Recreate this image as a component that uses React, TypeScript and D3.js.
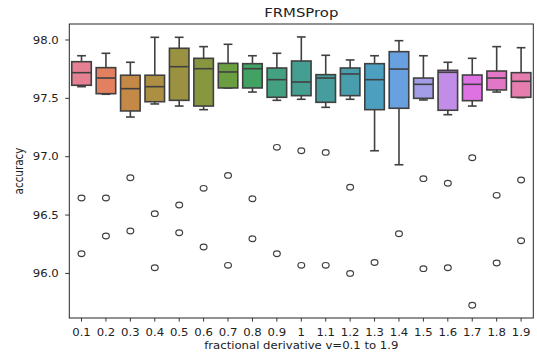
import React from "react";
import * as d3 from "d3";

// ---- data ----
const categories = ["0.1","0.2","0.3","0.4","0.5","0.6","0.7","0.8","0.9","1","1.1","1.2","1.3","1.4","1.5","1.6","1.7","1.8","1.9"];
const whiskerLow = [97.600,97.535,97.340,97.452,97.434,97.403,97.589,97.554,97.483,97.492,97.423,97.492,97.051,96.931,97.486,97.360,97.434,97.554,97.506];
const q1 =        [97.612,97.540,97.392,97.471,97.483,97.434,97.589,97.589,97.509,97.523,97.466,97.523,97.403,97.415,97.500,97.398,97.480,97.572,97.509];
const medians =   [97.720,97.674,97.583,97.600,97.771,97.754,97.726,97.754,97.660,97.640,97.674,97.709,97.660,97.751,97.620,97.723,97.620,97.674,97.646];
const q3 =        [97.814,97.763,97.698,97.698,97.929,97.843,97.800,97.797,97.760,97.820,97.703,97.760,97.797,97.900,97.674,97.740,97.700,97.734,97.720];
const whiskerHigh=[97.865,97.886,97.809,98.023,98.023,97.943,97.963,97.865,97.886,98.026,97.869,97.829,97.865,97.994,97.865,97.809,97.843,97.943,97.934];
const outliers = [
  [96.646,96.169],[96.646,96.320],[96.820,96.363],[96.512,96.049],[96.586,96.349],
  [96.729,96.226],[96.840,96.069],[96.640,96.297],[97.080,96.169],[97.051,96.069],
  [97.037,96.069],[96.738,96.000],[96.094],[96.340],[96.812,96.041],
  [96.772,96.049],[96.991,95.727],[96.669,96.089],[96.800,96.280],
];
const yTicks = [96.0, 96.5, 97.0, 97.5, 98.0];
const title = "FRMSProp";
const xLabel = "fractional derivative v=0.1 to 1.9";
const yLabel = "accuracy";

// ---- HUSL palette (seaborn husl_palette) ----
const M = [[3.2406,-1.5372,-0.4986],[-0.9689,1.8758,0.0415],[0.0557,-0.2040,1.0570]];
function maxChroma(L: number, H: number) {
  const hrad = (H / 360) * 2 * Math.PI;
  const sinH = Math.sin(hrad), cosH = Math.cos(hrad);
  const sub1 = Math.pow(L + 16, 3) / 1560896;
  const sub2 = sub1 > 0.0088564516 ? sub1 : L / 903.2962962;
  let result = Infinity;
  for (const [m1, m2, m3] of M) {
    const top = (0.99915 * m1 + 1.05122 * m2 + 1.1446 * m3) * sub2;
    const rb = 0.8633 * m3 - 0.17266 * m2;
    const lb = 0.12949 * m3 - 0.38848 * m1;
    const bottom = (rb * sinH + lb * cosH) * sub2;
    for (const t of [0, 1]) {
      const C = (L * (top - 1.05122 * t)) / (bottom + 0.17266 * sinH * t);
      if (C > 0 && C < result) result = C;
    }
  }
  return result;
}
function fInv(t: number) { return t * t * t > 0.008856 ? t * t * t : (116 * t - 16) / 903.3; }
function fromLinear(c: number) { return c <= 0.0031308 ? 12.92 * c : 1.055 * Math.pow(c, 1 / 2.4) - 0.055; }
function huslToRgb(H: number, S: number, L: number) {
  const C = (maxChroma(L, H) / 100) * S;
  const hr = (H / 360) * 2 * Math.PI;
  const U = C * Math.cos(hr), V = C * Math.sin(hr);
  const refU = 0.19784, refV = 0.46834;
  const varY = fInv((L + 16) / 116);
  const varU = U / (13 * L) + refU;
  const varV = V / (13 * L) + refV;
  const Y = varY;
  const X = 0 - (9 * Y * varU) / ((varU - 4) * varV - varU * varV);
  const Z = (9 * Y - 15 * varV * Y - varV * X) / (3 * varV);
  return M.map((r) => Math.min(1, Math.max(0, fromLinear(r[0] * X + r[1] * Y + r[2] * Z))));
}
const n = categories.length;
const palette = categories.map((_, i) => {
  const h = (((i / n) + 0.01) % 1) * 359;
  const [r, g, b] = huslToRgb(h, 0.9 * 99, 0.65 * 99);
  const c = d3.hsl(d3.rgb(r * 255, g * 255, b * 255));
  c.s *= 0.75;
  return c;
});
const lum = Math.min(...palette.map((c) => c.l)) * 0.6;
const gray = d3.rgb(lum * 255, lum * 255, lum * 255).formatHex();

// ---- layout ----
const W = 537, H = 358;
const left = 69.3, right = 533.3, top = 24, bottom = 318;
const SX = 1.125;
const font = "DejaVu Sans, sans-serif";

export default function App() {
  const x = d3.scaleBand<string>().domain(categories).range([left, right]).padding(0);
  const y = d3.scaleLinear().domain([95.618, 98.137]).range([bottom, top]);
  const bw = x.bandwidth() * 0.8;
  const cw = bw * 0.45;
  const lw = 1.6;
  return (
    <svg width={W} height={H} style={{ position: "absolute", left: 0, top: 0, background: "#fff" }}>
      <rect x={0} y={0} width={W} height={H} fill="#fff" />
      {categories.map((c, i) => {
        const cx = x(c)! + x.bandwidth() / 2;
        return (
          <g key={c}>
            <line x1={cx} x2={cx} y1={y(q3[i])} y2={y(whiskerHigh[i])} stroke={gray} strokeWidth={lw} />
            <line x1={cx} x2={cx} y1={y(q1[i])} y2={y(whiskerLow[i])} stroke={gray} strokeWidth={lw} />
            <line x1={cx - cw / 2} x2={cx + cw / 2} y1={y(whiskerHigh[i])} y2={y(whiskerHigh[i])} stroke={gray} strokeWidth={lw} />
            <line x1={cx - cw / 2} x2={cx + cw / 2} y1={y(whiskerLow[i])} y2={y(whiskerLow[i])} stroke={gray} strokeWidth={lw} />
            <rect x={cx - bw / 2} y={y(q3[i])} width={bw} height={y(q1[i]) - y(q3[i])}
              fill={palette[i].formatHex()} stroke={gray} strokeWidth={lw} />
            <line x1={cx - bw / 2} x2={cx + bw / 2} y1={y(medians[i])} y2={y(medians[i])} stroke={gray} strokeWidth={lw} />
            {outliers[i].map((v, j) => (
              <ellipse key={j} cx={cx} cy={y(v)} rx={3.4} ry={2.85} fill="none" stroke={gray} strokeWidth={1.2} />
            ))}
            <line x1={cx} x2={cx} y1={bottom} y2={bottom + 3.6} stroke="#222" strokeWidth={0.9} />
            <text transform={`translate(${cx},336) scale(${SX},1)`} textAnchor="middle"
              fontFamily={font} fontSize={10.4} fill="#222">{c}</text>
          </g>
        );
      })}
      {yTicks.map((t) => (
        <g key={t}>
          <line x1={left - 4.1} x2={left} y1={y(t)} y2={y(t)} stroke="#222" strokeWidth={0.9} />
          <text transform={`translate(${left - 10.5},${y(t) + 3.7}) scale(${SX},1)`} textAnchor="end"
            fontFamily={font} fontSize={10.4} fill="#222">{t.toFixed(1)}</text>
        </g>
      ))}
      <rect x={left} y={top} width={right - left} height={bottom - top} fill="none" stroke="#262626" strokeWidth={1} />
      <text transform={`translate(${(left + right) / 2},17) scale(1.18,1)`} textAnchor="middle"
        fontFamily={font} fontSize={12.6} fill="#222">{title}</text>
      <text transform={`translate(${(left + right) / 2},349.3) scale(${SX},1)`} textAnchor="middle"
        fontFamily={font} fontSize={10.4} fill="#222">{xLabel}</text>
      <text transform={`translate(22.8,${(top + bottom) / 2}) rotate(-90) scale(1,${SX})`} textAnchor="middle"
        fontFamily={font} fontSize={10.4} fill="#222">{yLabel}</text>
    </svg>
  );
}
